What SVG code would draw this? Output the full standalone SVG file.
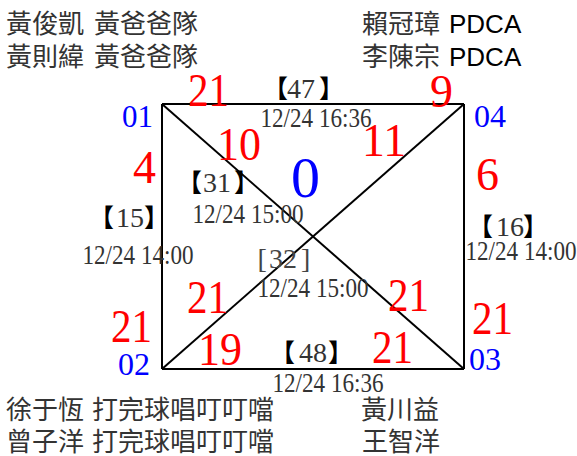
<svg xmlns="http://www.w3.org/2000/svg" width="577" height="456" viewBox="0 0 577 456">
<style>
.cjk{font-family:"Noto Sans CJK TC","Noto Sans CJK SC",sans-serif;font-size:26px;fill:#333}
.lat{font-family:"Liberation Sans",Arial,sans-serif;font-size:26px;fill:#000}
.date{font-family:"Liberation Serif","Times New Roman",serif;font-size:28px;fill:#333}
.num{font-family:"Liberation Serif","Times New Roman",serif;font-size:28px;fill:#333}
.br{font-family:"Noto Sans CJK TC","Noto Sans CJK SC",sans-serif;font-size:25px;font-weight:bold;fill:#000}
.red{font-family:"Liberation Serif","Times New Roman",serif;font-size:46px;fill:#f00}
.blue{font-family:"Liberation Serif","Times New Roman",serif;font-size:32px;fill:#00f}
.edge{stroke:#000;stroke-width:2;fill:none}
</style>
<g id="connectors">
<line class="edge" x1="162" y1="104" x2="464" y2="104"/>
<line class="edge" x1="464" y1="104" x2="464" y2="369"/>
<line class="edge" x1="464" y1="369" x2="162" y2="369"/>
<line class="edge" x1="162" y1="369" x2="162" y2="104"/>
<line class="edge" x1="162" y1="104" x2="464" y2="369"/>
<line class="edge" x1="162" y1="369" x2="464" y2="104"/>
</g>
<g id="node-01">
<text class="blue" x="122" y="127" textLength="31" lengthAdjust="spacingAndGlyphs">01</text>
<text class="cjk" x="6" y="33">黃俊凱<tspan x="94">黃爸爸隊</tspan></text>
<text class="cjk" x="6" y="66">黃則緯<tspan x="94">黃爸爸隊</tspan></text>
</g>
<g id="node-04">
<text class="blue" x="474" y="127" textLength="32" lengthAdjust="spacingAndGlyphs">04</text>
<text class="cjk" x="362" y="33">賴冠璋</text><text class="lat" x="449" y="33">PDCA</text>
<text class="cjk" x="362" y="66">李陳宗</text><text class="lat" x="449" y="66">PDCA</text>
</g>
<g id="node-02">
<text class="blue" x="118" y="375" textLength="32" lengthAdjust="spacingAndGlyphs">02</text>
<text class="cjk" x="6" y="419">徐于恆<tspan x="92">打完球唱叮叮噹</tspan></text>
<text class="cjk" x="6" y="451">曾子洋<tspan x="92">打完球唱叮叮噹</tspan></text>
</g>
<g id="node-03">
<text class="blue" x="469" y="370" textLength="32" lengthAdjust="spacingAndGlyphs">03</text>
<text class="cjk" x="361" y="419">黃川益</text>
<text class="cjk" x="362" y="451">王智洋</text>
</g>
<g id="center">
<text class="blue" x="291" y="197" style="font-size:58px">0</text>
</g>
<g id="scores">
<text class="red" x="188" y="106" textLength="41" lengthAdjust="spacingAndGlyphs">21</text>
<text class="red" x="430" y="107">9</text>
<text class="red" x="133" y="183">4</text>
<text class="red" x="476" y="190">6</text>
<text class="red" x="217" y="160" textLength="44" lengthAdjust="spacingAndGlyphs">10</text>
<text class="red" x="362" y="156" textLength="44" lengthAdjust="spacingAndGlyphs">11</text>
<text class="red" x="187" y="313" textLength="41" lengthAdjust="spacingAndGlyphs">21</text>
<text class="red" x="388" y="311" textLength="41" lengthAdjust="spacingAndGlyphs">21</text>
<text class="red" x="111" y="342" textLength="41" lengthAdjust="spacingAndGlyphs">21</text>
<text class="red" x="472" y="334" textLength="41" lengthAdjust="spacingAndGlyphs">21</text>
<text class="red" x="198" y="365" textLength="44" lengthAdjust="spacingAndGlyphs">19</text>
<text class="red" x="372" y="363" textLength="41" lengthAdjust="spacingAndGlyphs">21</text>
</g>
<g id="edge-labels">
<text x="0" y="98"><tspan class="br" x="263">【</tspan><tspan class="num" x="287">47</tspan><tspan class="br" x="319">】</tspan></text>
<text class="date" x="260.5" y="127" textLength="111" lengthAdjust="spacingAndGlyphs">12/24 16:36</text>
<text x="0" y="192"><tspan class="br" x="177">【</tspan><tspan class="num" x="203">31</tspan><tspan class="br" x="234">】</tspan></text>
<text class="date" x="192.5" y="223" textLength="111" lengthAdjust="spacingAndGlyphs">12/24 15:00</text>
<text x="0" y="227"><tspan class="br" x="89">【</tspan><tspan class="num" x="116">15</tspan><tspan class="br" x="144">】</tspan></text>
<text class="date" x="82.5" y="264" textLength="111" lengthAdjust="spacingAndGlyphs">12/24 14:00</text>
<text x="0" y="268" class="num" style="fill:#444"><tspan x="257.5">[</tspan><tspan x="269">32</tspan><tspan x="301">]</tspan></text>
<text class="date" x="257.5" y="297" textLength="111" lengthAdjust="spacingAndGlyphs">12/24 15:00</text>
<text x="0" y="236"><tspan class="br" x="468">【</tspan><tspan class="num" x="496">16</tspan><tspan class="br" x="523">】</tspan></text>
<text class="date" x="465.5" y="260" textLength="111" lengthAdjust="spacingAndGlyphs">12/24 14:00</text>
<text x="0" y="362"><tspan class="br" x="270">【</tspan><tspan class="num" x="299">48</tspan><tspan class="br" x="328">】</tspan></text>
<text class="date" x="272.5" y="392" textLength="111" lengthAdjust="spacingAndGlyphs">12/24 16:36</text>
</g>
</svg>
